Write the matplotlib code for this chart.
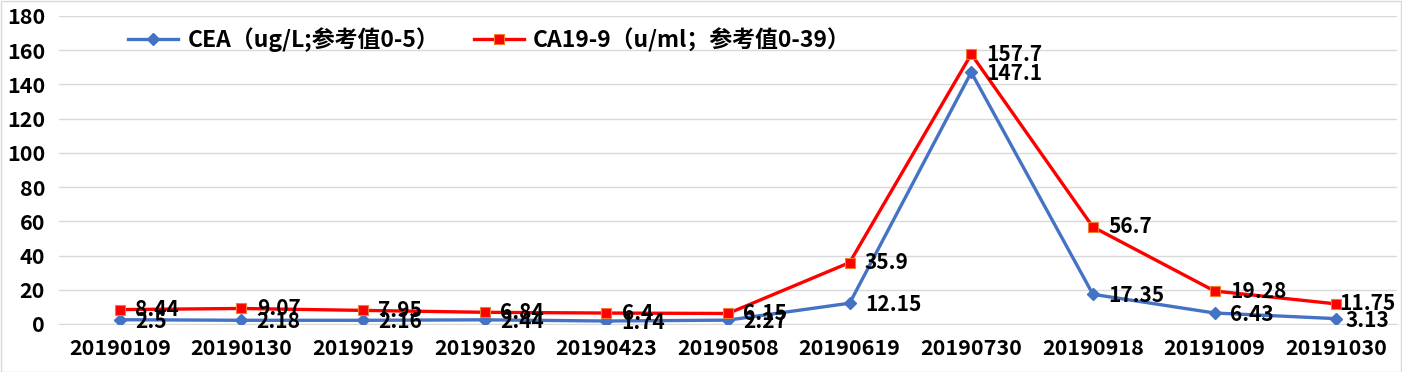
import matplotlib.pyplot as plt
from matplotlib.patches import Rectangle

plt.rcParams['font.family'] = ['Noto Sans CJK SC', 'DejaVu Sans']
plt.rcParams['font.weight'] = 'bold'

dates = ["20190109", "20190130", "20190219", "20190320", "20190423", "20190508",
         "20190619", "20190730", "20190918", "20191009", "20191030"]
cea = [2.5, 2.18, 2.16, 2.44, 1.74, 2.27, 12.15, 147.1, 17.35, 6.43, 3.13]
ca199 = [8.44, 9.07, 7.95, 6.84, 6.4, 6.15, 35.9, 157.7, 56.7, 19.28, 11.75]
cea_labels = ["2.5", "2.18", "2.16", "2.44", "1.74", "2.27", "12.15", "147.1", "17.35", "6.43", "3.13"]
ca_labels = ["8.44", "9.07", "7.95", "6.84", "6.4", "6.15", "35.9", "157.7", "56.7", "19.28", "11.75"]

fig = plt.figure(figsize=(14.02, 3.72), dpi=100)
ax = fig.add_axes([59 / 1402, 48 / 372, 1338 / 1402, 308 / 372])

x = [i + 0.5 for i in range(len(dates))]
ax.plot(x, cea, color='#4472C4', lw=2.4, marker='D', ms=6.5,
        label='CEA（ug/L;参考值0-5）', zorder=3)
ax.plot(x, ca199, color='#FF0000', lw=2.4, marker='s', ms=6.5, mec='#ED7D31', mew=0.8,
        label='CA19-9（u/ml；参考值0-39）', zorder=4)

n = len(dates)
for i, (xi, v, t) in enumerate(zip(x, ca199, ca_labels)):
    # last label is pushed left so it stays inside the chart, like Excel does
    dx = 2 if i == n - 1 else 11
    ax.annotate(t, (xi, v), xytext=(dx, 0), textcoords='offset points',
                va='center', ha='left', fontsize=15, fontweight='bold', zorder=5)
for i, (xi, v, t) in enumerate(zip(x, cea, cea_labels)):
    dx = 7 if i == n - 1 else 11
    ax.annotate(t, (xi, v), xytext=(dx, -1), textcoords='offset points',
                va='center', ha='left', fontsize=15, fontweight='bold', zorder=5)

ax.set_xlim(0, n)
ax.set_ylim(0, 180)
ax.set_yticks(range(0, 181, 20))
ax.set_xticks(x)
ax.set_xticklabels(dates)
ax.tick_params(axis='both', length=0, labelsize=15.5)
ax.tick_params(axis='x', pad=10)
ax.tick_params(axis='y', pad=10)
for lab in ax.get_xticklabels() + ax.get_yticklabels():
    lab.set_fontweight('bold')
ax.grid(axis='y', color='#D9D9D9', lw=1)
ax.set_axisbelow(True)
for s in ['top', 'right', 'left']:
    ax.spines[s].set_visible(False)
ax.spines['bottom'].set_color('#D9D9D9')

leg = ax.legend(loc='upper left', bbox_to_anchor=(0.036, 1.03), ncol=2, frameon=False,
                prop={'size': 16.5, 'weight': 'bold'}, handlelength=2.2, columnspacing=1.5,
                handletextpad=0.4)

fig.patches.append(Rectangle((0.5 / 1402, 0.5 / 372), 1 - 1.5 / 1402, 1 - 1.5 / 372,
                             transform=fig.transFigure, fill=False, ec='#D9D9D9', lw=1))

fig.savefig('out.png', dpi=100)
